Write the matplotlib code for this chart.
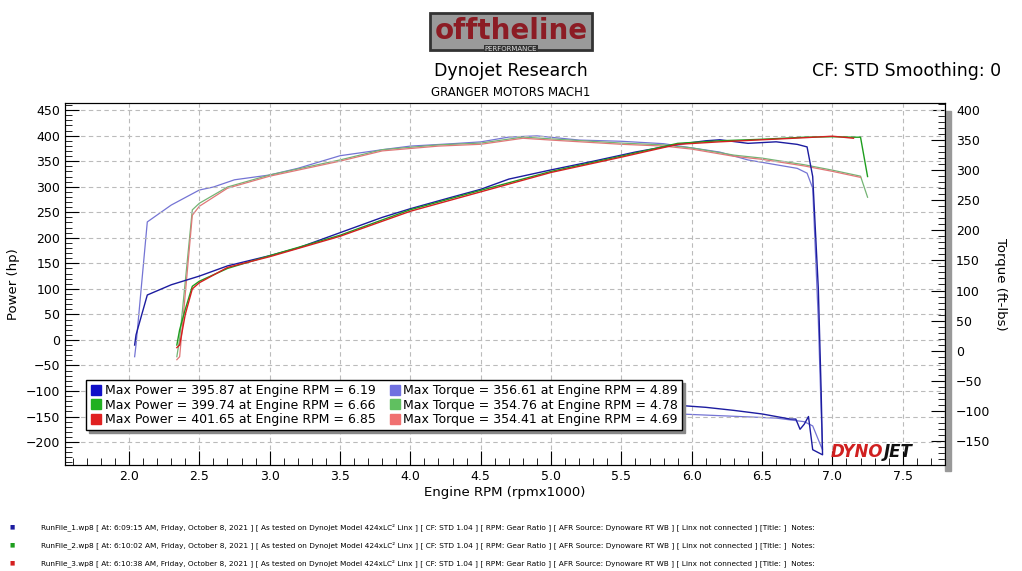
import matplotlib
matplotlib.use("Agg")
from matplotlib import pyplot as plt
from matplotlib.lines import Line2D
from matplotlib.patches import Rectangle
from matplotlib.ticker import MultipleLocator

# run 1
p1_rpm = [2.04, 2.05, 2.13, 2.3, 2.5, 2.7, 3.0, 3.2, 3.5, 3.8, 4.0, 4.3, 4.5, 4.7, 5.0, 5.3, 5.6, 5.9, 6.1, 6.2, 6.4, 6.6, 6.75, 6.82,
          6.86, 6.9, 6.92, 6.93, 6.86, 6.83, 6.8, 6.77, 6.74, 6.7, 6.6, 6.5, 6.3, 6.1, 5.9, 5.7, 5.5]
p1_hp = [-10, 10, 88, 108, 125, 145, 165, 180, 210, 240, 257, 280, 295, 315, 333, 350, 368, 383, 390, 392, 385, 388, 383, 378,
         320, 100, -100, -225, -215, -150, -165, -175, -155, -155, -150, -145, -138, -132, -128, -124, -120]
t1_rpm = [2.04, 2.05, 2.13, 2.3, 2.5, 2.6, 2.75, 3.0, 3.2, 3.5, 3.8, 4.0, 4.3, 4.5, 4.7, 4.9, 5.2, 5.5, 5.8, 6.0, 6.2, 6.4, 6.6, 6.75, 6.82,
          6.86, 6.9, 6.92, 6.93, 6.86, 6.8, 6.7, 6.6, 6.4, 6.2, 6.0, 5.8, 5.5]
t1_tq = [-10, 10, 214, 242, 267, 272, 284, 292, 303, 324, 334, 340, 344, 347, 355, 357, 350, 348, 344, 337, 330, 317, 309, 303, 295,
         270, 50, -100, -165, -125, -118, -115, -112, -110, -108, -106, -104, -100]

# runs 2 and 3
p_rpm = [2.34, 2.36, 2.4, 2.45, 2.5, 2.7, 3.0, 3.5, 4.0, 4.5, 5.0, 5.5, 5.9, 6.2, 6.5, 6.8, 7.0, 7.15]
p2_hp = [-10, 20, 60, 105, 115, 140, 165, 205, 255, 293, 330, 360, 385, 390, 393, 397, 398, 397]
p3_hp = [-15, -10, 50, 100, 112, 142, 163, 203, 252, 290, 328, 358, 383, 388, 392, 396, 399, 395]
p2_end_rpm = [7.2, 7.25]
p2_end_hp = [397, 320]
t_rpm = [2.34, 2.36, 2.45, 2.5, 2.7, 3.0, 3.5, 3.8, 4.2, 4.5, 4.8, 5.0, 5.5, 5.8, 6.0, 6.3, 6.5, 6.8, 7.0, 7.2]
t2_tq = [-10, 20, 234, 245, 272, 292, 317, 334, 342, 345, 355, 352, 345, 342, 337, 325, 320, 309, 300, 290]
t3_tq = [-15, -10, 225, 240, 270, 290, 315, 332, 340, 343, 353, 350, 343, 340, 335, 323, 318, 307, 298, 288]
t2_end_rpm = [7.25]
t2_end_tq = [255]

legend_labels = ["Max Power = 395.87 at Engine RPM = 6.19", "Max Power = 399.74 at Engine RPM = 6.66",
                 "Max Power = 401.65 at Engine RPM = 6.85", "Max Torque = 356.61 at Engine RPM = 4.89",
                 "Max Torque = 354.76 at Engine RPM = 4.78", "Max Torque = 354.41 at Engine RPM = 4.69"]
run_notes = ["RunFile_1.wp8 [ At: 6:09:15 AM, Friday, October 8, 2021 ]",
             "RunFile_2.wp8 [ At: 6:10:02 AM, Friday, October 8, 2021 ]",
             "RunFile_3.wp8 [ At: 6:10:38 AM, Friday, October 8, 2021 ]"]
note_tail = (" [ As tested on Dynojet Model 424xLC² Linx ] [ CF: STD 1.04 ] [ RPM: Gear Ratio ] "
             "[ AFR Source: Dynoware RT WB ] [ Linx not connected ] [Title: ]  Notes:")

c_pow = ["#1c1ca0", "#1e9e1e", "#d42020"]
c_tq = ["#7474d4", "#74b474", "#e07878"]
c_leg = ["#1010c8", "#20b020", "#e02020", "#7070e0", "#60c060", "#f07070"]

plt.rcParams['font.family'] = ['Verdana', 'DejaVu Sans']
fig = plt.figure(figsize=(10.22, 5.71), dpi=100)
ax = fig.add_axes([0.0636, 0.1856, 0.861, 0.634])
ax2 = ax.twinx()

ax2.plot(t1_rpm, t1_tq, color=c_tq[0], lw=0.9)
ax2.plot(t_rpm + t2_end_rpm, t2_tq + t2_end_tq, color=c_tq[1], lw=0.9)
ax2.plot(t_rpm, t3_tq, color=c_tq[2], lw=0.9)
ax.plot(p1_rpm, p1_hp, color=c_pow[0], lw=1)
ax.plot(p_rpm + p2_end_rpm, p2_hp + p2_end_hp, color=c_pow[1], lw=1)
ax.plot(p_rpm, p3_hp, color=c_pow[2], lw=1)
ax.set_zorder(ax2.get_zorder() + 1)
ax.patch.set_visible(False)

ax.set_xlim(1.545, 7.8)
ax.set_ylim(-245, 464)
ax2.set_ylim(-190, 411.6)
ax.xaxis.set_major_locator(MultipleLocator(0.5))
ax.xaxis.set_minor_locator(MultipleLocator(0.1))
ax.yaxis.set_major_locator(MultipleLocator(50))
ax.yaxis.set_minor_locator(MultipleLocator(10))
ax2.yaxis.set_major_locator(MultipleLocator(50))
ax2.yaxis.set_minor_locator(MultipleLocator(10))
ax.grid(True, which='major', ls=(0, (4, 3)), color='#bbbbbb', lw=0.8)
for a in (ax, ax2):
    a.tick_params(which='both', direction='in', labelsize=9)
    a.tick_params(which='major', length=10)
    a.tick_params(which='minor', length=5)
ax2.tick_params(axis='y', pad=8)
ax.set_xlabel("Engine RPM (rpmx1000)", fontsize=9.5, labelpad=2)
ax.set_ylabel("Power (hp)", fontsize=9.5)
ax2.set_ylabel("Torque (ft-lbs)", fontsize=9.5, rotation=-90, labelpad=12)

handles = [Line2D([], [], ls='none', marker='s', markersize=6.5, color=c) for c in c_leg]
leg = ax.legend(handles, legend_labels, ncol=2, loc='lower left', bbox_to_anchor=(0.017, 0.08),
                fontsize=9, frameon=True, fancybox=False, shadow={'color': '#888888', 'alpha': 1},
                edgecolor='black', framealpha=1, handletextpad=0.2, columnspacing=1.0,
                labelspacing=0.12, borderpad=0.3, handlelength=1.0)
leg.get_frame().set_linewidth(1)

ax.text(0.93, 0.01, "DYNO", transform=ax.transAxes, ha='right', va='bottom', color='#d02020',
        fontsize=12, fontweight='bold', style='italic')
ax.text(0.93, 0.01, "JET", transform=ax.transAxes, ha='left', va='bottom', color='#111111',
        fontsize=12, fontweight='bold', style='italic')
fig.add_artist(Rectangle((0.9245, 0.175), 0.006, 0.63, color='#999999'))

fig.text(0.5, 0.945, "offtheline", ha='center', va='center', fontsize=20, fontweight='bold',
         color='#8c1c24', bbox=dict(boxstyle='square,pad=0.15', fc='#9a9a9a', ec='#333333', lw=2))
fig.text(0.5, 0.915, "PERFORMANCE", ha='center', va='center', fontsize=5, color='#dddddd',
         bbox=dict(boxstyle='square,pad=0.1', fc='#333333', ec='none'))
fig.text(0.5, 0.875, "Dynojet Research", ha='center', va='center', fontsize=12.5)
fig.text(0.5, 0.838, "GRANGER MOTORS MACH1", ha='center', va='center', fontsize=8.5)
fig.text(0.98, 0.875, "CF: STD Smoothing: 0", ha='right', va='center', fontsize=12.5)

for i, note in enumerate(run_notes):
    y = 1 - (527 + i * 18) / 571
    fig.text(0.009, y, "■", color=c_pow[i], fontsize=4, va='center')
    fig.text(0.04, y, note + note_tail, fontsize=5.3, va='center')

fig.savefig("out.png", dpi=100)
